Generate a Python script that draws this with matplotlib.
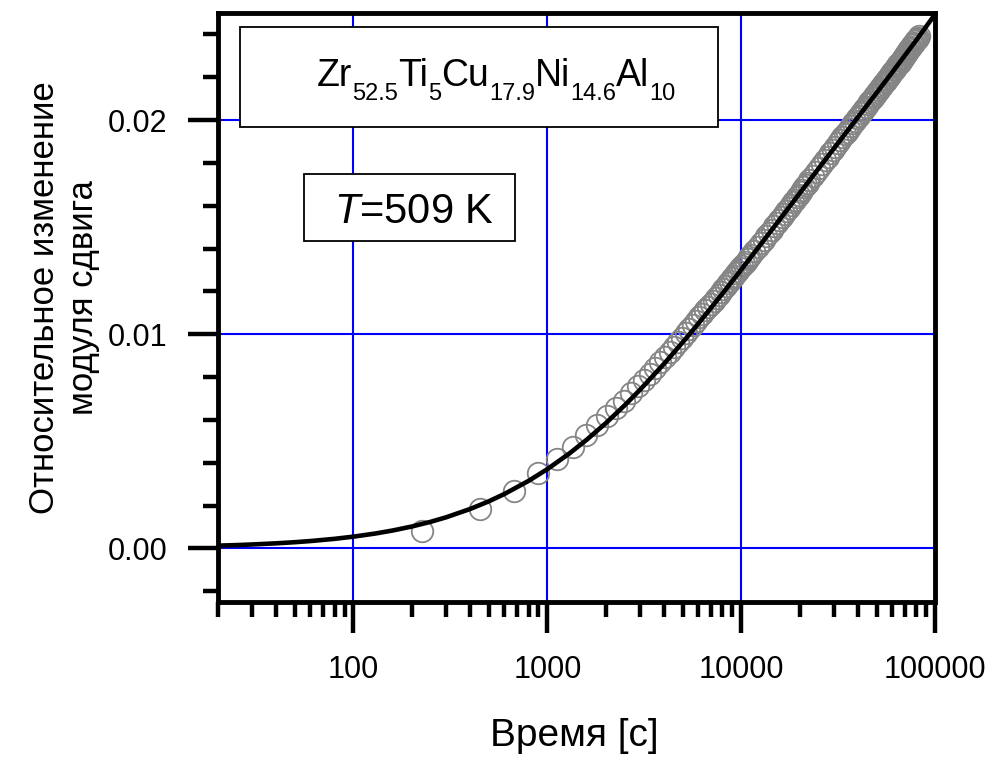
import numpy as np
import matplotlib
matplotlib.use("Agg")
import matplotlib.pyplot as plt
from matplotlib.ticker import FixedLocator, FuncFormatter, NullFormatter
from matplotlib.patches import Rectangle
from matplotlib.font_manager import FontProperties

plt.rcParams["font.family"] = ["Liberation Sans", "DejaVu Sans"]
plt.rcParams["mathtext.fontset"] = "custom"
plt.rcParams["mathtext.rm"] = "Liberation Sans"
plt.rcParams["mathtext.it"] = "Liberation Sans:italic"

# Measured relative shear-modulus change (y in units of 1e-6) vs annealing time, s
time_early = [225, 450, 675, 900, 1125, 1350, 1575, 1800, 2025, 2250, 2475, 2700, 2925, 3150,
              3375, 3600, 3825, 4050, 4275, 4500, 4725, 4950, 5175, 5400, 5625, 5850, 6075,
              6300, 6525, 6750, 6975, 7200, 7425, 7650, 7875, 8100, 8325, 8550, 8775, 9000,
              9225, 9450, 9675, 9900, 10125, 10350, 10575, 10800, 11025, 11250]
shift_early_ppm = [806, 1827, 2679, 3536, 4176, 4749, 5274, 5756, 6166, 6548, 6906, 7244, 7563,
                   7865, 8152, 8425, 8686, 8936, 9176, 9405, 9626, 9839, 10044, 10242, 10434,
                   10619, 10795, 10960, 11120, 11275, 11426, 11573, 11716, 11855, 11990, 12122,
                   12251, 12377, 12500, 12620, 12738, 12853, 12965, 13075, 13183, 13288, 13392,
                   13493, 13592, 13690]

time_mid = [11700, 12150, 12600, 13050, 13500, 13950, 14400, 14850, 15300, 15750, 16200, 16650,
            17100, 17550, 18000, 18450, 18900, 19350, 19800, 20250, 20700, 21150, 21600, 22050,
            22500]
shift_mid_ppm = [13880, 14062, 14239, 14409, 14574, 14734, 14889, 15039, 15190, 15340, 15485,
                 15626, 15764, 15898, 16029, 16156, 16281, 16402, 16521, 16637, 16750, 16861,
                 16970, 17076, 17180]

time_late = [23400, 24300, 25200, 26100, 27000, 27900, 28800, 29700, 30600, 31500, 32400, 33300,
             34200, 35100, 36000, 36900, 37800, 38700, 39600, 40500, 41400, 42300, 43200, 44100,
             45000, 45900, 46800, 47700, 48600, 49500, 50400, 51300, 52200, 53100, 54000, 54900,
             55800, 56700, 57600, 58500, 59400, 60300, 61200, 62100, 63000, 63900, 64800, 65700,
             66600, 67500, 68400, 69300, 70200, 71100, 72000, 72900, 73800, 74700, 75600, 76500,
             77400, 78300, 79200, 80100, 81000, 81900, 82800]
shift_late_ppm = [17382, 17577, 17764, 17944, 18119, 18287, 18450, 18608, 18761, 18910, 19054,
                  19195, 19331, 19464, 19594, 19720, 19844, 19964, 20082, 20197, 20309, 20419,
                  20527, 20632, 20736, 20837, 20937, 21034, 21130, 21225, 21317, 21408, 21497,
                  21585, 21672, 21757, 21841, 21923, 22005, 22085, 22164, 22242, 22318, 22394,
                  22469, 22543, 22615, 22687, 22758, 22828, 22898, 22966, 23034, 23101, 23167,
                  23232, 23297, 23361, 23424, 23487, 23549, 23610, 23671, 23731, 23791, 23850,
                  23908]

# Fitted kinetic curve
fit_time = [20, 25, 30, 40, 50, 60, 80, 100, 130, 160, 200, 250, 300, 400, 500, 600, 800, 1000,
            1300, 1600, 2000, 2500, 3000, 4000, 5000, 6000, 8000, 10000, 13000, 16000, 20000,
            25000, 30000, 40000, 50000, 60000, 80000, 100000]
fit_shift_ppm = [131, 158, 186, 240, 293, 346, 450, 552, 699, 842, 1025, 1243, 1452, 1843, 2204,
                 2541, 3154, 3703, 4436, 5083, 5844, 6673, 7398, 8622, 9631, 10489, 11893, 13012,
                 14352, 15421, 16573, 17723, 18660, 20133, 21276, 22216, 23725, 24936]

# Alloy composition: element symbols and their at.% subscripts
elements = ["Zr", "Ti", "Cu", "Ni", "Al"]
fractions = ["52.5", "5", "17.9", "14.6", "10"]

x_major = [100, 1000, 10000, 100000]
y_major = [0.0, 0.01, 0.02]

t_data = np.array(time_early + time_mid + time_late, dtype=float)
y_data = np.array(shift_early_ppm + shift_mid_ppm + shift_late_ppm, dtype=float) * 1e-6
t_fit = np.array(fit_time, dtype=float)
y_fit = np.array(fit_shift_ppm, dtype=float) * 1e-6

W, H = 992, 758
DPI = 100
fig = plt.figure(figsize=(W / DPI, H / DPI), dpi=DPI)
L, R, T, B = 218, 935, 13, 602
ax = fig.add_axes([L / W, 1 - B / H, (R - L) / W, (B - T) / H])

ax.set_xscale("log")
ax.set_xlim(20, 100000)
ax.set_ylim(-0.0025, 0.025)

ax.plot(t_data, y_data, linestyle="none", marker="o", markersize=15.5,
        markerfacecolor="none", markeredgecolor="#858585", markeredgewidth=1.3, zorder=3)
ax.plot(t_fit, y_fit, color="black", linewidth=3.3, zorder=4, solid_capstyle="round")

# axes, ticks, grid
ax.xaxis.set_major_locator(FixedLocator(x_major))
ax.xaxis.set_minor_locator(FixedLocator([m * d for d in (10, 100, 1000, 10000) for m in range(2, 10)
                                         if 20 <= m * d < 100000]))
ax.xaxis.set_major_formatter(FuncFormatter(lambda v, p: "%d" % round(v)))
ax.xaxis.set_minor_formatter(NullFormatter())
ax.yaxis.set_major_locator(FixedLocator(y_major))
ax.yaxis.set_minor_locator(FixedLocator([-0.002, 0.002, 0.004, 0.006, 0.008, 0.012, 0.014,
                                         0.016, 0.018, 0.022, 0.024]))
ax.yaxis.set_major_formatter(FuncFormatter(lambda v, p: "%.2f" % v))

ax.tick_params(axis="both", which="major", direction="out", width=3.2, labelsize=22)
ax.tick_params(axis="x", which="major", length=22, pad=16)
ax.tick_params(axis="y", which="major", length=21.5, pad=15)
ax.tick_params(axis="both", which="minor", direction="out", length=10.5, width=3.2)
ax.tick_params(top=False, right=False, which="both")

for s in ax.spines.values():
    s.set_linewidth(3.5)
    s.set_zorder(6)

ax.grid(True, which="major", color="#0000ff", linewidth=1.5, zorder=1)
ax.set_axisbelow(True)

# annotation boxes
ax.add_patch(Rectangle((0.0307, 0.8065), 0.6667, 0.1698, transform=ax.transAxes,
                       facecolor="white", edgecolor="black", linewidth=1.3, zorder=2))
ax.add_patch(Rectangle((0.1199, 0.6129), 0.2943, 0.1138, transform=ax.transAxes,
                       facecolor="white", edgecolor="black", linewidth=1.3, zorder=2))
ax.text(0.2734, 0.6435, r"$T$=509 K", transform=ax.transAxes, ha="center", va="baseline",
        fontsize=30, zorder=5)

# composition written piece by piece so the subscripts sit well below the baseline
renderer = fig.canvas.get_renderer()
main_fp = FontProperties(family="Liberation Sans", size=27)
sub_fp = FontProperties(family="Liberation Sans", size=17)
anchor = (0.138, 0.876)
x_pts = 0.0
for sym, frac in zip(elements, fractions):
    for txt, fp, dy in ((sym, main_fp, 0.0), (frac, sub_fp, -10.0)):
        ax.annotate(txt, xy=anchor, xycoords="axes fraction", xytext=(x_pts, dy),
                    textcoords="offset points", ha="left", va="baseline",
                    fontproperties=fp, zorder=5)
        w_px, _, _ = renderer.get_text_width_height_descent(txt, fp, ismath=False)
        x_pts += w_px * 72.0 / DPI

fig.text(64 / W, 1 - 298 / H, "Относительное изменение\nмодуля сдвига", rotation=90,
         ha="center", va="center", multialignment="center", fontsize=25, linespacing=1.25)
fig.text(574 / W, 1 - 746 / H, "Время [с]", ha="center", va="baseline", fontsize=28)

fig.savefig("out.png", dpi=DPI)
